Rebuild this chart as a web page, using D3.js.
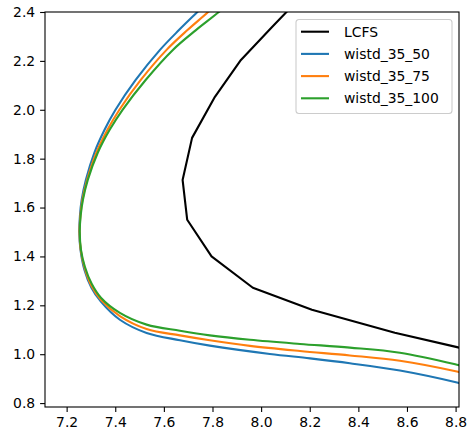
<!DOCTYPE html>
<html>
<head>
<meta charset="utf-8">
<script src="https://cdn.jsdelivr.net/npm/d3@7"></script>
<style>
  body { margin: 0; background: #fff; }
  svg { display: block; font-family: "DejaVu Sans", sans-serif; }
</style>
</head>
<body>
<svg id="chart" width="468" height="432"></svg>
<script>
//Series data (R along x, Z along y)
var lcfsR = [8.152, 8.045, 7.917, 7.810, 7.716, 7.677, 7.696, 7.796, 7.966, 8.209, 8.550, 8.806, 8.896];
var lcfsZ = [2.449, 2.339, 2.204, 2.053, 1.885, 1.713, 1.550, 1.400, 1.272, 1.182, 1.088, 1.029, 1.008];

//Upper and lower legs share the same Z samples down to the nose
var w50R = [7.831, 7.738, 7.662, 7.584, 7.484, 7.401, 7.356, 7.314, 7.279, 7.262, 7.255, 7.252,
            7.257, 7.273, 7.302, 7.341, 7.419, 7.529, 7.666, 7.789, 8.036, 8.201, 8.365, 8.571, 8.810, 8.900];
var w50Z = [2.490, 2.400, 2.326, 2.245, 2.122, 2.000, 1.918, 1.824, 1.713, 1.632, 1.570, 1.501,
            1.427, 1.346, 1.272, 1.215, 1.141, 1.087, 1.057, 1.035, 1.001, 0.983, 0.963, 0.933, 0.883, 0.859];

var w75R = [7.880, 7.782, 7.697, 7.611, 7.505, 7.417, 7.368, 7.322, 7.284, 7.265, 7.257, 7.253,
            7.258, 7.274, 7.302, 7.341, 7.419, 7.529, 7.666, 7.789, 7.954, 8.160, 8.365, 8.571, 8.810, 8.900];
var w75Z = [2.490, 2.400, 2.326, 2.245, 2.122, 2.000, 1.918, 1.824, 1.713, 1.632, 1.570, 1.501,
            1.427, 1.354, 1.280, 1.223, 1.156, 1.103, 1.077, 1.057, 1.034, 1.013, 0.995, 0.973, 0.928, 0.906];

var w100R = [7.930, 7.826, 7.732, 7.637, 7.525, 7.430, 7.377, 7.328, 7.287, 7.267, 7.258, 7.254,
             7.259, 7.275, 7.303, 7.341, 7.419, 7.529, 7.666, 7.789, 7.954, 8.160, 8.365, 8.571, 8.810, 8.900];
var w100Z = [2.490, 2.400, 2.326, 2.245, 2.122, 2.000, 1.918, 1.824, 1.713, 1.632, 1.570, 1.501,
             1.427, 1.358, 1.288, 1.231, 1.169, 1.121, 1.096, 1.077, 1.059, 1.042, 1.027, 1.006, 0.956, 0.933];

var seriesNames = ["LCFS", "wistd_35_50", "wistd_35_75", "wistd_35_100"];
var seriesColors = ["#000000", "#1f77b4", "#ff7f0e", "#2ca02c"];

var xTicks = [7.2, 7.4, 7.6, 7.8, 8.0, 8.2, 8.4, 8.6, 8.8];
var yTicks = [0.8, 1.0, 1.2, 1.4, 1.6, 1.8, 2.0, 2.2, 2.4];

//Plot area in pixels
var plotLeft = 45, plotRight = 459, plotTop = 12, plotBottom = 407;

var x = d3.scaleLinear().domain([7.111, 8.814]).range([plotLeft, plotRight]);
var y = d3.scaleLinear().domain([0.784, 2.4]).range([plotBottom, plotTop]);

var svg = d3.select("#chart");

svg.append("defs").append("clipPath")
    .attr("id", "plot-clip")
    .append("rect")
    .attr("x", plotLeft).attr("y", plotTop)
    .attr("width", plotRight - plotLeft).attr("height", plotBottom - plotTop);

//Pair up the R and Z arrays into points for each series
function zipPoints(rs, zs) {
    return rs.map(function (r, i) { return [r, zs[i]]; });
}

var series = [
    { pts: zipPoints(lcfsR, lcfsZ), curve: d3.curveLinear },
    { pts: zipPoints(w50R, w50Z), curve: d3.curveCatmullRom.alpha(0.5) },
    { pts: zipPoints(w75R, w75Z), curve: d3.curveCatmullRom.alpha(0.5) },
    { pts: zipPoints(w100R, w100Z), curve: d3.curveCatmullRom.alpha(0.5) }
];

var plot = svg.append("g").attr("clip-path", "url(#plot-clip)");

series.forEach(function (s, i) {
    var line = d3.line()
        .x(function (d) { return x(d[0]); })
        .y(function (d) { return y(d[1]); })
        .curve(s.curve);
    plot.append("path")
        .datum(s.pts)
        .attr("fill", "none")
        .attr("stroke", seriesColors[i])
        .attr("stroke-width", 2.1)
        .attr("stroke-linejoin", "round")
        .attr("stroke-linecap", "square")
        .attr("d", line);
});

//Axes
var xAxis = svg.append("g")
    .attr("transform", "translate(0," + plotBottom + ")")
    .call(d3.axisBottom(x).tickValues(xTicks).tickFormat(d3.format(".1f")).tickSizeOuter(0).tickSize(4.9).tickPadding(4.9));

var yAxis = svg.append("g")
    .attr("transform", "translate(" + plotLeft + ",0)")
    .call(d3.axisLeft(y).tickValues(yTicks).tickFormat(d3.format(".1f")).tickSizeOuter(0).tickSize(4.9).tickPadding(4.9));

[xAxis, yAxis].forEach(function (a) {
    a.select(".domain").remove();
    a.selectAll(".tick line").attr("stroke", "#000").attr("stroke-width", 1.1);
    a.selectAll(".tick text")
        .attr("fill", "#000")
        .style("font-size", "13.9px")
        .style("font-family", "DejaVu Sans");
});

//Frame around the plot area
svg.append("rect")
    .attr("x", plotLeft).attr("y", plotTop)
    .attr("width", plotRight - plotLeft).attr("height", plotBottom - plotTop)
    .attr("fill", "none")
    .attr("stroke", "#000")
    .attr("stroke-width", 1.1);

//Legend in the upper right
var legend = svg.append("g").attr("transform", "translate(296,19.5)");

legend.append("rect")
    .attr("width", 156).attr("height", 94)
    .attr("rx", 3).attr("ry", 3)
    .attr("fill", "#fff").attr("fill-opacity", 0.8)
    .attr("stroke", "#cccccc").attr("stroke-width", 1.1);

var rows = legend.selectAll("g.row")
    .data(seriesNames)
    .enter().append("g")
    .attr("class", "row")
    .attr("transform", function (d, i) { return "translate(0," + (12.2 + i * 22.2) + ")"; });

rows.append("line")
    .attr("x1", 5).attr("x2", 33)
    .attr("stroke", function (d, i) { return seriesColors[i]; })
    .attr("stroke-width", 2.1);

rows.append("text")
    .attr("x", 48)
    .attr("dy", "0.35em")
    .style("font-size", "13.9px")
    .attr("fill", "#000")
    .text(function (d) { return d; });
</script>
</body>
</html>
